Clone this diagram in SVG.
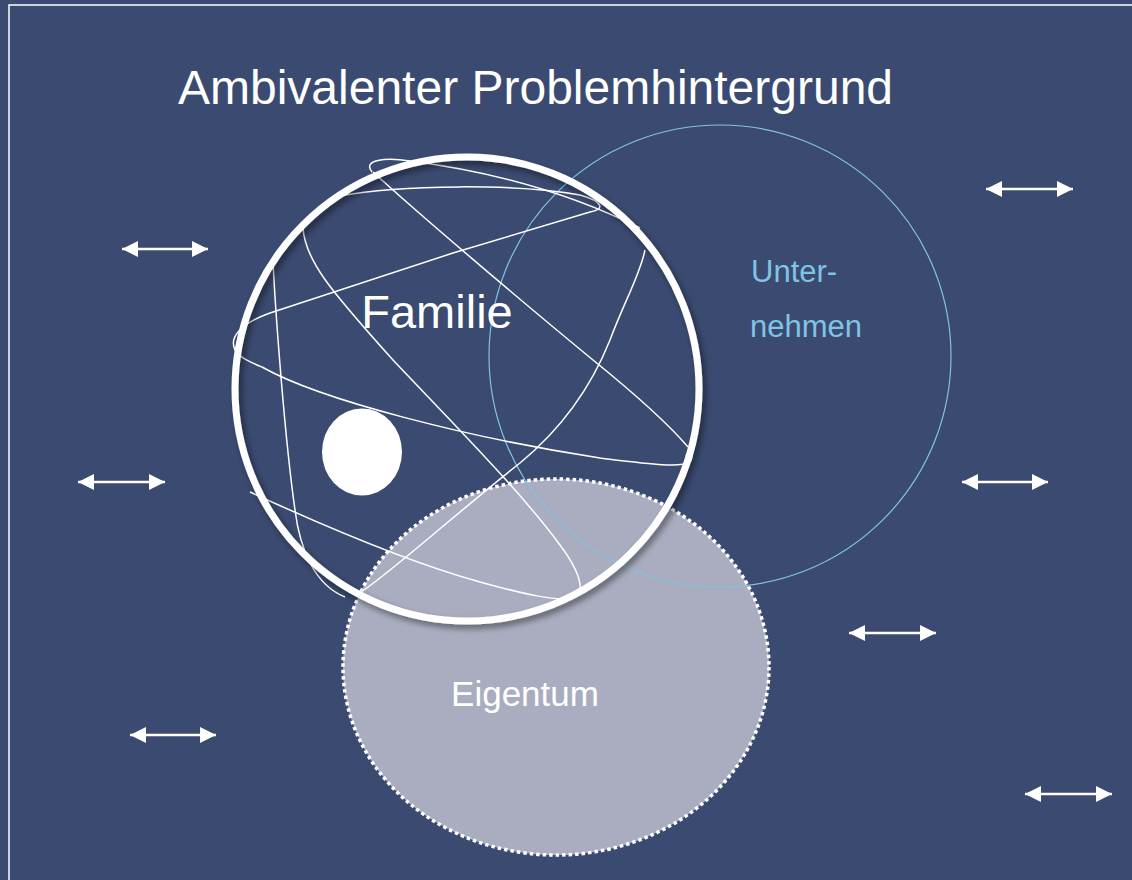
<svg xmlns="http://www.w3.org/2000/svg" width="1132" height="880" viewBox="0 0 1132 880">
<defs>
<style>
.arrow{stroke:#fff;stroke-width:2.5;fill:none;marker-start:url(#ah);marker-end:url(#ah)}
.yarn{stroke:#fff;stroke-width:1.5;fill:none}
.t{font-family:"Liberation Sans",Arial,sans-serif}
</style>
<marker id="ah" markerUnits="userSpaceOnUse" viewBox="0 0 16 16" refX="16" refY="8" markerWidth="16" markerHeight="16" orient="auto-start-reverse">
<path d="M0,0 L16,8 L0,16 Z" fill="#fff"/>
</marker>
<filter id="sh" x="-10%" y="-10%" width="120%" height="120%">
<feDropShadow dx="3" dy="4" stdDeviation="3" flood-color="#000" flood-opacity="0.45"/>
</filter>
</defs>
<rect x="0" y="0" width="1132" height="880" fill="#3b4a70"/>
<rect x="9" y="5" width="1200" height="1000" fill="none" stroke="#fff" stroke-width="1.5"/>
<text class="t" x="178" y="104" font-size="48" fill="#fff">Ambivalenter Problemhintergrund</text>

<g id="eigentum">
<ellipse cx="556" cy="667" rx="213" ry="188" fill="#a9adbf" stroke="#fff" stroke-width="3.5" stroke-dasharray="3.5 3"/>
<text class="t" x="525" y="706" font-size="35" fill="#fff" text-anchor="middle">Eigentum</text>
</g>

<g id="unternehmen">
<circle cx="720" cy="356" r="231" fill="none" stroke="#7fc4e4" stroke-width="1.2"/>
<text class="t" x="751" y="282" font-size="31" fill="#7fc4e4">Unter-</text>
<text class="t" x="750" y="337" font-size="31" fill="#7fc4e4">nehmen</text>
</g>

<g id="familie">
<path class="yarn" d="M372,172 C362,160 385,157 410,161 C480,170 560,188 640,228"/>
<path class="yarn" d="M340,196 C400,184 520,184 580,195 C605,202 604,210 590,212 L453,253 L270,313 C245,322 228,335 235,350 C240,358 250,362 262,367 C320,400 470,438 600,458 C650,464 680,468 690,462 C695,455 688,450 686,456"/>
<path class="yarn" d="M373,172 C420,215 520,300 593,360 C630,390 665,420 688,447"/>
<path class="yarn" d="M303,228 C305,260 330,290 393,360 C440,410 520,490 560,545 C575,565 582,580 580,592"/>
<path class="yarn" d="M273,262 C276,320 285,440 295,510 C300,550 315,585 345,597"/>
<path class="yarn" d="M250,492 C300,515 400,560 480,582 C520,593 560,603 575,597"/>
<path class="yarn" d="M360,593 C400,565 460,510 520,463 C560,430 590,390 610,340 C625,300 640,275 645,250"/>
<circle cx="467" cy="389" r="232" fill="none" stroke="#fff" stroke-width="7" filter="url(#sh)"/>
<text class="t" x="437" y="328" font-size="47" fill="#fff" text-anchor="middle">Familie</text>
<ellipse cx="362" cy="452" rx="40" ry="43.5" fill="#fff"/>
</g>

<g id="connectors">
<line class="arrow" x1="122" y1="249" x2="208" y2="249"/>
<line class="arrow" x1="986" y1="189" x2="1073" y2="189"/>
<line class="arrow" x1="78" y1="482" x2="165" y2="482"/>
<line class="arrow" x1="962" y1="482" x2="1048" y2="482"/>
<line class="arrow" x1="849" y1="633" x2="936" y2="633"/>
<line class="arrow" x1="130" y1="735" x2="216" y2="735"/>
<line class="arrow" x1="1025" y1="794" x2="1112" y2="794"/>
</g>
</svg>
